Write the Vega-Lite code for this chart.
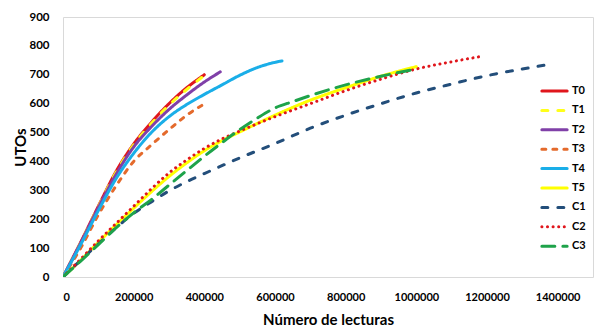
{
  "$schema": "https://vega.github.io/schema/vega-lite/v6.json",
  "autosize": "none",
  "padding": {"left": 63, "top": 17, "right": 2, "bottom": 52},
  "width": 530,
  "height": 260,
  "background": "white",
  "config": {
    "font": "Lato",
    "view": {"stroke": "#d9d9d9", "strokeWidth": 1},
    "axis": {"labelFont": "Lato", "titleFont": "Lato", "labelFontWeight": "bold", "titleFontWeight": "bold", "labelColor": "#000", "titleColor": "#000"}
  },
  "datasets": {
    "series": [
      {"s": "T0", "x": 0, "y": 0}, {"s": "T0", "x": 50000, "y": 120}, {"s": "T0", "x": 100000, "y": 245}, {"s": "T0", "x": 150000, "y": 365}, {"s": "T0", "x": 200000, "y": 460}, {"s": "T0", "x": 250000, "y": 535}, {"s": "T0", "x": 300000, "y": 600}, {"s": "T0", "x": 350000, "y": 655}, {"s": "T0", "x": 400000, "y": 700},
      {"s": "T1", "x": 0, "y": 0}, {"s": "T1", "x": 50000, "y": 119}, {"s": "T1", "x": 100000, "y": 243}, {"s": "T1", "x": 150000, "y": 362}, {"s": "T1", "x": 200000, "y": 457}, {"s": "T1", "x": 250000, "y": 531}, {"s": "T1", "x": 300000, "y": 595}, {"s": "T1", "x": 350000, "y": 649}, {"s": "T1", "x": 395000, "y": 693},
      {"s": "T2", "x": 0, "y": 0}, {"s": "T2", "x": 50000, "y": 118}, {"s": "T2", "x": 100000, "y": 240}, {"s": "T2", "x": 150000, "y": 355}, {"s": "T2", "x": 200000, "y": 450}, {"s": "T2", "x": 250000, "y": 520}, {"s": "T2", "x": 300000, "y": 580}, {"s": "T2", "x": 350000, "y": 630}, {"s": "T2", "x": 400000, "y": 675}, {"s": "T2", "x": 445000, "y": 710},
      {"s": "T3", "x": 0, "y": 0}, {"s": "T3", "x": 50000, "y": 100}, {"s": "T3", "x": 100000, "y": 215}, {"s": "T3", "x": 150000, "y": 315}, {"s": "T3", "x": 200000, "y": 400}, {"s": "T3", "x": 250000, "y": 457}, {"s": "T3", "x": 300000, "y": 510}, {"s": "T3", "x": 350000, "y": 560}, {"s": "T3", "x": 397000, "y": 597},
      {"s": "T4", "x": 0, "y": 0}, {"s": "T4", "x": 50000, "y": 112}, {"s": "T4", "x": 100000, "y": 230}, {"s": "T4", "x": 150000, "y": 340}, {"s": "T4", "x": 200000, "y": 428}, {"s": "T4", "x": 250000, "y": 500}, {"s": "T4", "x": 300000, "y": 555}, {"s": "T4", "x": 350000, "y": 597}, {"s": "T4", "x": 400000, "y": 632}, {"s": "T4", "x": 450000, "y": 665}, {"s": "T4", "x": 500000, "y": 698}, {"s": "T4", "x": 550000, "y": 725}, {"s": "T4", "x": 600000, "y": 743}, {"s": "T4", "x": 620000, "y": 748},
      {"s": "T5", "x": 0, "y": 0}, {"s": "T5", "x": 50000, "y": 58}, {"s": "T5", "x": 100000, "y": 120}, {"s": "T5", "x": 150000, "y": 180}, {"s": "T5", "x": 200000, "y": 238}, {"s": "T5", "x": 250000, "y": 295}, {"s": "T5", "x": 300000, "y": 348}, {"s": "T5", "x": 350000, "y": 395}, {"s": "T5", "x": 400000, "y": 437}, {"s": "T5", "x": 450000, "y": 472}, {"s": "T5", "x": 500000, "y": 502}, {"s": "T5", "x": 600000, "y": 560}, {"s": "T5", "x": 700000, "y": 612}, {"s": "T5", "x": 800000, "y": 655}, {"s": "T5", "x": 900000, "y": 695}, {"s": "T5", "x": 1000000, "y": 728},
      {"s": "C1", "x": 0, "y": 0}, {"s": "C1", "x": 50000, "y": 58}, {"s": "C1", "x": 100000, "y": 115}, {"s": "C1", "x": 150000, "y": 170}, {"s": "C1", "x": 200000, "y": 220}, {"s": "C1", "x": 250000, "y": 260}, {"s": "C1", "x": 300000, "y": 298}, {"s": "C1", "x": 350000, "y": 330}, {"s": "C1", "x": 400000, "y": 358}, {"s": "C1", "x": 500000, "y": 412}, {"s": "C1", "x": 600000, "y": 462}, {"s": "C1", "x": 700000, "y": 515}, {"s": "C1", "x": 800000, "y": 560}, {"s": "C1", "x": 900000, "y": 600}, {"s": "C1", "x": 1000000, "y": 637}, {"s": "C1", "x": 1100000, "y": 668}, {"s": "C1", "x": 1200000, "y": 697}, {"s": "C1", "x": 1300000, "y": 720}, {"s": "C1", "x": 1382000, "y": 737},
      {"s": "C2", "x": 0, "y": 0}, {"s": "C2", "x": 50000, "y": 62}, {"s": "C2", "x": 100000, "y": 125}, {"s": "C2", "x": 150000, "y": 185}, {"s": "C2", "x": 200000, "y": 245}, {"s": "C2", "x": 250000, "y": 305}, {"s": "C2", "x": 300000, "y": 360}, {"s": "C2", "x": 350000, "y": 405}, {"s": "C2", "x": 400000, "y": 445}, {"s": "C2", "x": 450000, "y": 478}, {"s": "C2", "x": 500000, "y": 505}, {"s": "C2", "x": 600000, "y": 555}, {"s": "C2", "x": 700000, "y": 600}, {"s": "C2", "x": 800000, "y": 645}, {"s": "C2", "x": 900000, "y": 685}, {"s": "C2", "x": 1000000, "y": 720}, {"s": "C2", "x": 1100000, "y": 745}, {"s": "C2", "x": 1190000, "y": 765},
      {"s": "C3", "x": 0, "y": 0}, {"s": "C3", "x": 50000, "y": 55}, {"s": "C3", "x": 100000, "y": 112}, {"s": "C3", "x": 150000, "y": 170}, {"s": "C3", "x": 200000, "y": 222}, {"s": "C3", "x": 250000, "y": 268}, {"s": "C3", "x": 300000, "y": 318}, {"s": "C3", "x": 350000, "y": 368}, {"s": "C3", "x": 400000, "y": 418}, {"s": "C3", "x": 450000, "y": 465}, {"s": "C3", "x": 500000, "y": 510}, {"s": "C3", "x": 550000, "y": 550}, {"s": "C3", "x": 600000, "y": 585}, {"s": "C3", "x": 650000, "y": 607}, {"s": "C3", "x": 700000, "y": 628}, {"s": "C3", "x": 800000, "y": 665}, {"s": "C3", "x": 900000, "y": 695}, {"s": "C3", "x": 1000000, "y": 720}
    ]
  },
  "data": {"name": "series"},
  "mark": {"type": "line", "strokeWidth": 3, "strokeCap": "round", "interpolate": "monotone", "clip": true},
  "encoding": {
    "x": {
      "field": "x", "type": "quantitative",
      "scale": {"domain": [0, 1500000], "nice": false},
      "axis": {"values": [0, 200000, 400000, 600000, 800000, 1000000, 1200000, 1400000], "format": "d", "grid": false, "ticks": false, "domain": false, "labelFontSize": 11, "labelPadding": 14, "title": "Número de lecturas", "titleFontSize": 15, "titlePadding": 10}
    },
    "y": {
      "field": "y", "type": "quantitative",
      "scale": {"domain": [0, 900], "nice": false},
      "axis": {"values": [0, 100, 200, 300, 400, 500, 600, 700, 800, 900], "grid": false, "ticks": false, "domain": false, "labelFontSize": 11.5, "labelPadding": 14, "title": "UTOs", "titleFontSize": 15, "titlePadding": 0}
    },
    "color": {
      "field": "s", "type": "nominal",
      "scale": {
        "domain": ["T0", "T1", "T2", "T3", "T4", "T5", "C1", "C2", "C3"],
        "range": ["#e0161c", "#ffff1a", "#8040a8", "#e46a2c", "#1aaee8", "#ffff00", "#234e7a", "#e0161c", "#1ea34a"]
      },
      "legend": {
        "title": null,
        "orient": "none",
        "legendX": 477,
        "legendY": 66,
        "symbolType": "stroke",
        "symbolStrokeWidth": 3,
        "symbolSize": 640,
        "labelFontSize": 11,
        "labelFontWeight": "bold",
        "labelColor": "#000",
        "labelFont": "Lato",
        "labelOffset": 3,
        "clipHeight": 16,
        "rowPadding": 3.4,
        "encoding": {"symbols": {"strokeCap": {"value": "round"}}}
      }
    },
    "strokeDash": {
      "field": "s", "type": "nominal",
      "scale": {
        "domain": ["T0", "T1", "T2", "T3", "T4", "T5", "C1", "C2", "C3"],
        "range": [[1, 0], [6, 10], [1, 0], [4, 7], [1, 0], [1, 0], [6, 10], [0.1, 5.5], [13, 8]]
      },
      "legend": null
    },
    "order": {"field": "x"}
  }
}
